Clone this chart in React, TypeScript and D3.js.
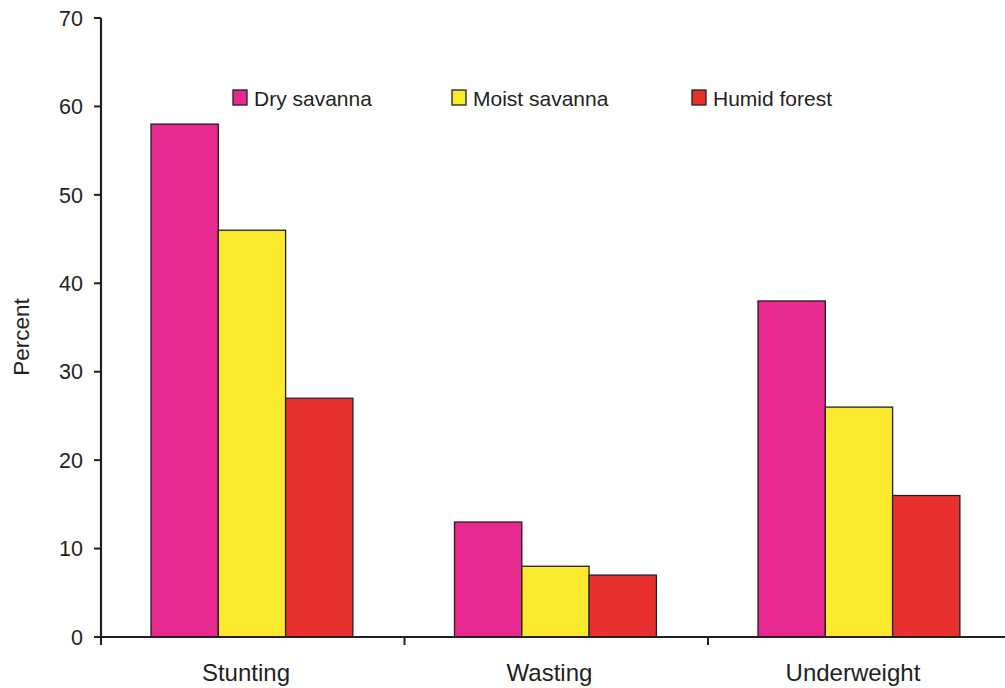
import React from "react";
import * as d3 from "d3";

const categories = ["Stunting", "Wasting", "Underweight"];
const seriesNames = ["Dry savanna", "Moist savanna", "Humid forest"];
const dryValues = [58, 13, 38];
const moistValues = [46, 8, 26];
const humidValues = [27, 7, 16];
const yTicks = [0, 10, 20, 30, 40, 50, 60, 70];
const colors = ["#E8298F", "#FBE92D", "#E8302F"];

const W = 1005, H = 688;
const x0 = 101, yBottom = 637, yTop = 18;
const bandW = 303.5;

export default function App() {
  const series = [dryValues, moistValues, humidValues];
  const x = d3.scaleBand<string>().domain(categories).range([x0, x0 + bandW * 3]).paddingInner(0).paddingOuter(0);
  const xs = d3.scaleBand<string>().domain(seriesNames).range([50, 50 + 67.3 * 3]).paddingInner(0).paddingOuter(0);
  const y = d3.scaleLinear().domain([0, 70]).range([yBottom, yTop]);
  const ink = "#231F20";
  const font = "'Liberation Sans', Arial, sans-serif";
  const legendX = [233, 452, 692];
  return (
    <svg width={W} height={H} style={{ position: "absolute", left: 0, top: 0, background: "#fff" }} fontFamily={font}>
      {categories.map((c, ci) =>
        seriesNames.map((s, si) => (
          <rect key={c + s} x={x(c)! + xs(s)!} y={y(series[si][ci])} width={xs.bandwidth()} height={yBottom - y(series[si][ci])}
            fill={colors[si]} stroke={ink} strokeWidth={1.3} />
        ))
      )}
      <line x1={x0} x2={W} y1={yBottom} y2={yBottom} stroke={ink} strokeWidth={2.2} />
      <line x1={x0} x2={x0} y1={yTop} y2={yBottom} stroke={ink} strokeWidth={2.2} />
      {yTicks.map(t => (
        <g key={t}>
          <line x1={x0 - 7} x2={x0} y1={y(t)} y2={y(t)} stroke={ink} strokeWidth={2} />
          <text x={x0 - 18} y={y(t)} dy="0.36em" textAnchor="end" fontSize={21.5} fill={ink}>{t}</text>
        </g>
      ))}
      {[0, 1, 2].map(i => (
        <line key={i} x1={x0 + bandW * i} x2={x0 + bandW * i} y1={yBottom} y2={yBottom + 8} stroke={ink} strokeWidth={2} />
      ))}
      {categories.map(c => (
        <text key={c} x={x(c)! + 50 + 67.3 * 1.5 - 6} y={681} textAnchor="middle" fontSize={24} fill={ink}>{c}</text>
      ))}
      <text transform={`translate(29,${337}) rotate(-90)`} textAnchor="middle" fontSize={22.5} fill={ink}>Percent</text>
      {seriesNames.map((s, i) => (
        <g key={s}>
          <rect x={legendX[i]} y={90} width={14} height={15} fill={colors[i]} stroke={ink} strokeWidth={1.3} />
          <text x={legendX[i] + 21} y={106} fontSize={21} fill={ink}>{s}</text>
        </g>
      ))}
    </svg>
  );
}
